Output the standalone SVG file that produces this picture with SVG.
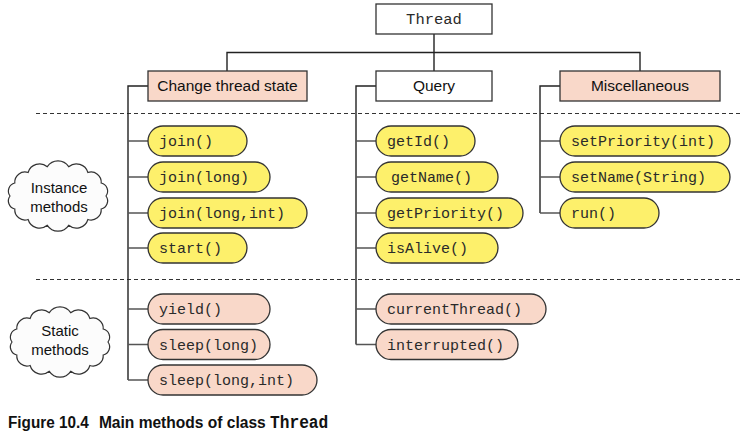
<svg xmlns="http://www.w3.org/2000/svg" width="750" height="441" viewBox="0 0 750 441">
<style>
.box{stroke:#333;stroke-width:1.3}
.white{fill:#fff}
.pink{fill:#f9d8c9}
.yel{fill:#fdf06b}
.pill{stroke:#333;stroke-width:1.3}
.sans{font-family:"Liberation Sans",Arial,sans-serif;font-size:15px;fill:#111}
.mono{font-family:"Liberation Mono","Courier New",monospace;font-size:15px;fill:#2a2a2a}
.trunk{stroke:#222;stroke-width:1.4;fill:none}
.branch{stroke:#555;stroke-width:1.4;fill:none}
.dash{stroke:#333;stroke-width:1;stroke-dasharray:4 3;fill:none}
.cloud{fill:#fcfcfc;stroke:#333;stroke-width:1.2}
.cap{font-family:"Liberation Sans",Arial,sans-serif;font-weight:bold;font-size:17px;fill:#111}
</style>
<defs>
<path id="cloudShape" d="M-48,0 A8.3,8.3 0 0 1 -43.2,-13 A10.2,10.2 0 0 1 -29.9,-23.5 A12,12 0 0 1 -10.7,-29.3 A12.8,12.8 0 0 1 10.7,-29.3 A12,12 0 0 1 29.9,-23.5 A10.2,10.2 0 0 1 43.2,-13 A8.3,8.3 0 0 1 48,0 A8.3,8.3 0 0 1 43.2,13 A10.2,10.2 0 0 1 29.9,23.5 A12,12 0 0 1 10.7,29.3 A12.8,12.8 0 0 1 -10.7,29.3 A12,12 0 0 1 -29.9,23.5 A10.2,10.2 0 0 1 -43.2,13 A8.3,8.3 0 0 1 -48,0 Z"/>
</defs>
<rect width="750" height="441" fill="#fff"/>

<g id="separators">
<line class="dash" x1="36" y1="113.5" x2="742" y2="113.5"/>
<line class="dash" x1="36" y1="279.5" x2="742" y2="279.5"/>
</g>

<g id="connectors">
<path class="trunk" d="M434,34 V71 M227,71 V52.5 H640 V71"/>
<path class="trunk" d="M148,86 H128 V380"/>
<path class="branch" d="M128,141 H148 M128,177 H148 M128,213 H148 M128,248 H148 M128,309 H148 M128,344.5 H148 M128,380 H148"/>
<path class="trunk" d="M376,86 H356 V344.5"/>
<path class="branch" d="M356,141 H376 M356,177 H376 M356,213 H376 M356,248 H376 M356,309 H376 M356,344.5 H376"/>
<path class="trunk" d="M560,86 H540 V213"/>
<path class="branch" d="M540,141 H560 M540,177 H560 M540,213 H560"/>
</g>

<g id="thread">
<rect class="box white" x="376" y="4" width="116" height="30"/>
<text class="mono" x="434" y="24" text-anchor="middle" style="font-size:15.5px">Thread</text>
</g>
<g id="change-thread-state">
<rect class="box pink" x="148" y="71" width="159" height="30"/>
<text class="sans" x="227.5" y="91" text-anchor="middle" style="font-size:15.5px">Change thread state</text>
</g>
<g id="query">
<rect class="box white" x="376" y="71" width="116" height="30"/>
<text class="sans" x="434" y="91" text-anchor="middle" style="font-size:15.5px">Query</text>
</g>
<g id="miscellaneous">
<rect class="box pink" x="560" y="71" width="160" height="30"/>
<text class="sans" x="640" y="91" text-anchor="middle" style="font-size:15.5px">Miscellaneous</text>
</g>

<g id="instance-methods">
<use href="#cloudShape" class="cloud" transform="translate(58,196)"/>
<text class="sans" x="59" y="193" text-anchor="middle">Instance</text>
<text class="sans" x="59" y="212" text-anchor="middle">methods</text>
</g>
<g id="static-methods">
<use href="#cloudShape" class="cloud" transform="translate(60,342)"/>
<text class="sans" x="60" y="336" text-anchor="middle">Static</text>
<text class="sans" x="60" y="355" text-anchor="middle">methods</text>
</g>

<g id="join0"><rect class="pill yel" x="148" y="126" width="99" height="30" rx="15"/><text class="mono" x="159" y="146">join()</text></g>
<g id="join1"><rect class="pill yel" x="148" y="162" width="122" height="30" rx="15"/><text class="mono" x="159" y="182">join(long)</text></g>
<g id="join2"><rect class="pill yel" x="148" y="198" width="159" height="30" rx="15"/><text class="mono" x="159" y="218">join(long,int)</text></g>
<g id="start"><rect class="pill yel" x="148" y="233" width="99" height="30" rx="15"/><text class="mono" x="159" y="253">start()</text></g>
<g id="yield"><rect class="pill pink" x="148" y="294" width="122" height="30" rx="15"/><text class="mono" x="159" y="314">yield()</text></g>
<g id="sleep1"><rect class="pill pink" x="148" y="329.5" width="122" height="30" rx="15"/><text class="mono" x="159" y="349.5">sleep(long)</text></g>
<g id="sleep2"><rect class="pill pink" x="148" y="365" width="169" height="30" rx="15"/><text class="mono" x="159" y="385">sleep(long,int)</text></g>

<g id="getId"><rect class="pill yel" x="376" y="126" width="99" height="30" rx="15"/><text class="mono" x="387" y="146">getId()</text></g>
<g id="getName"><rect class="pill yel" x="376" y="162" width="122" height="30" rx="15"/><text class="mono" x="391" y="182">getName()</text></g>
<g id="getPriority"><rect class="pill yel" x="376" y="198" width="147" height="30" rx="15"/><text class="mono" x="387" y="218">getPriority()</text></g>
<g id="isAlive"><rect class="pill yel" x="376" y="233" width="122" height="30" rx="15"/><text class="mono" x="387" y="253">isAlive()</text></g>
<g id="currentThread"><rect class="pill pink" x="376" y="294" width="170" height="30" rx="15"/><text class="mono" x="387" y="314">currentThread()</text></g>
<g id="interrupted"><rect class="pill pink" x="376" y="329.5" width="142" height="30" rx="15"/><text class="mono" x="387" y="349.5">interrupted()</text></g>

<g id="setPriority"><rect class="pill yel" x="560" y="126" width="170" height="30" rx="15"/><text class="mono" x="571" y="146">setPriority(int)</text></g>
<g id="setName"><rect class="pill yel" x="560" y="162" width="170" height="30" rx="15"/><text class="mono" x="571" y="182">setName(String)</text></g>
<g id="run"><rect class="pill yel" x="560" y="198" width="99" height="30" rx="15"/><text class="mono" x="571" y="218">run()</text></g>

<g id="caption" transform="translate(8,428) scale(0.9,1)">
<text class="cap" x="0" y="0">Figure 10.4</text>
<text class="cap" x="101" y="0" style="font-size:17.3px">Main methods of class <tspan style="font-family:'Liberation Mono','Courier New',monospace;font-size:18px">Thread</tspan></text>
</g>
</svg>
